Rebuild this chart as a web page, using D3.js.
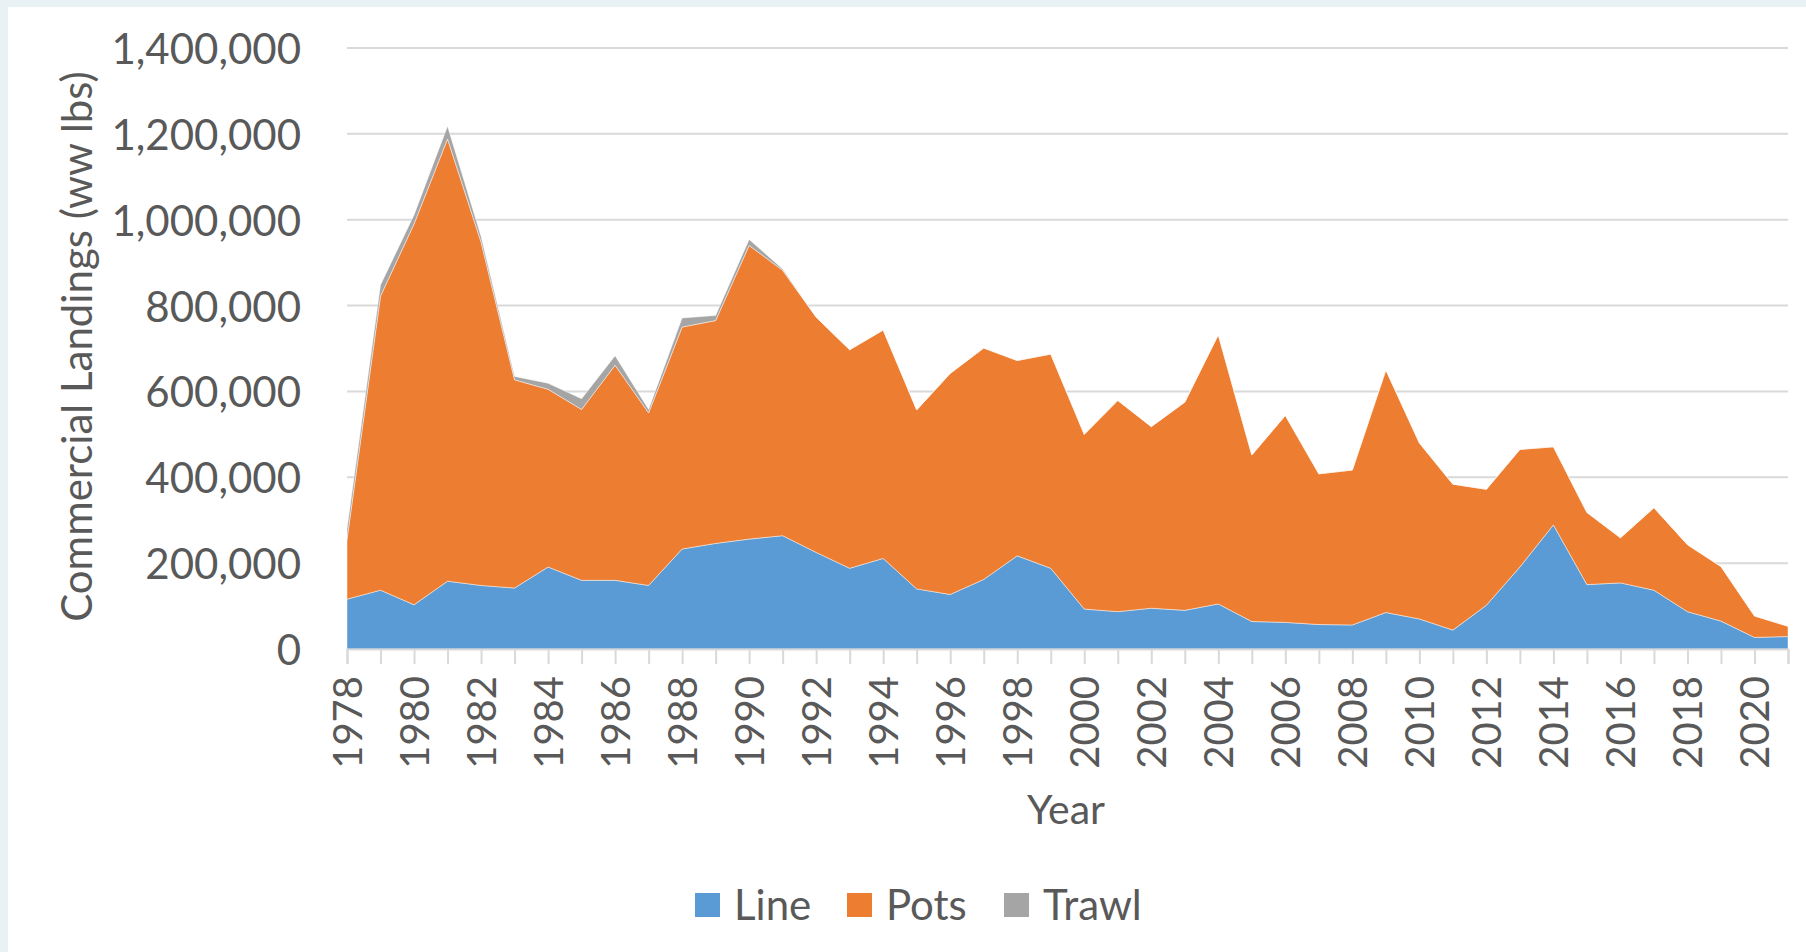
<!DOCTYPE html>
<html>
<head>
<meta charset="utf-8">
<script src="https://cdn.jsdelivr.net/npm/d3@7"></script>
<style>
  html, body { margin: 0; padding: 0; background: #e8f1f4; }
  svg { display: block; }
</style>
</head>
<body>
<script>
// ---- data (thousands of lbs) ----
const years = [1978,1979,1980,1981,1982,1983,1984,1985,1986,1987,1988,1989,1990,1991,1992,1993,1994,1995,1996,1997,1998,1999,2000,2001,2002,2003,2004,2005,2006,2007,2008,2009,2010,2011,2012,2013,2014,2015,2016,2017,2018,2019,2020,2021];
const lineVals = [116,137,103,158,148,142,191,160,160,148,233,246,256,264,225,188,211,140,127,162,217,188,93,87,95,90,105,64,62,57,56,85,70,44,102,191,289,150,154,137,87,65,27,29];
const potsVals = [139,685,887,1030,800,485,414,398,501,402,517,519,684,618,548,509,532,417,515,539,455,499,407,492,423,485,627,388,482,351,361,565,410,340,270,274,182,168,105,192,156,127,50,24];
const trawlVals = [25,26,21,30,13,8,14,25,22,8,21,12,14,3,0,0,0,0,0,0,0,0,0,0,0,0,0,0,0,0,0,0,0,0,0,0,0,0,0,0,0,0,0,0];
const seriesNames = ["Line","Pots","Trawl"];
const seriesColors = ["#5b9bd5","#ed7d31","#a5a5a5"];
const yTicks = [0,200000,400000,600000,800000,1000000,1200000,1400000];
const xLabelYears = years.filter(y => (y - 1978) % 2 === 0);

const W = 1806, H = 952;
const plot = {left: 347, right: 1788, top: 48, bottom: 649};
const textColor = "#595959";
const fontFamily = "Lato, 'Open Sans', sans-serif";

const svg = d3.select("body").append("svg").attr("width", W).attr("height", H);
svg.append("rect").attr("x", 8).attr("y", 7).attr("width", W - 8).attr("height", H - 7).attr("fill", "#ffffff");

const table = years.map((yr, i) => ({year: yr, Line: lineVals[i]*1000, Pots: potsVals[i]*1000, Trawl: trawlVals[i]*1000}));
const stack = d3.stack().keys(seriesNames)(table);

const x = d3.scaleLinear().domain([years[0], years[years.length-1]]).range([plot.left, plot.right]);
const y = d3.scaleLinear().domain([0, 1400000]).range([plot.bottom, plot.top]);

// gridlines
svg.append("g").selectAll("line").data(yTicks.filter(d => d > 0)).join("line")
  .attr("x1", plot.left).attr("x2", plot.right)
  .attr("y1", d => y(d)).attr("y2", d => y(d))
  .attr("stroke", "#d9d9d9").attr("stroke-width", 2);

// areas
const area = d3.area().x(d => x(d.data.year)).y0(d => y(d[0])).y1(d => y(d[1]));
svg.append("g").selectAll("path").data(stack).join("path")
  .attr("d", area)
  .attr("fill", (d, i) => seriesColors[i])
  .attr("stroke", "#ffffff").attr("stroke-opacity", 0.45).attr("stroke-width", 1);

// x axis
const xAxis = d3.axisBottom(x).tickValues(years).tickSize(15).tickFormat("");
const gx = svg.append("g").attr("transform", `translate(0,${plot.bottom})`).call(xAxis);
gx.select(".domain").attr("stroke", "#d9d9d9").attr("stroke-width", 2);
gx.selectAll(".tick line").attr("stroke", "#d9d9d9").attr("stroke-width", 2);

svg.append("g").selectAll("text").data(xLabelYears).join("text")
  .attr("transform", d => `translate(${x(d)},${plot.bottom + 27}) rotate(-90)`)
  .attr("text-anchor", "end").attr("dominant-baseline", "central")
  .attr("font-family", fontFamily).attr("font-size", 40).attr("fill", textColor)
  .text(d => d);

// y axis labels
const fmt = d3.format(",");
svg.append("g").selectAll("text").data(yTicks).join("text")
  .attr("x", 301).attr("y", d => y(d))
  .attr("text-anchor", "end").attr("dominant-baseline", "central")
  .attr("font-family", fontFamily).attr("font-size", 42).attr("fill", textColor)
  .text(d => fmt(d));

// axis titles
svg.append("text")
  .attr("transform", `translate(76,${(plot.top + plot.bottom)/2 - 2}) rotate(-90)`)
  .attr("text-anchor", "middle").attr("dominant-baseline", "central")
  .attr("font-family", fontFamily).attr("font-size", 42).attr("fill", textColor)
  .text("Commercial Landings (ww lbs)");

svg.append("text")
  .attr("x", 1066).attr("y", 824)
  .attr("text-anchor", "middle")
  .attr("font-family", fontFamily).attr("font-size", 41).attr("fill", textColor)
  .text("Year");

// legend
const legendX = [695, 847, 1004];
const lg = svg.append("g").selectAll("g").data(seriesNames).join("g")
  .attr("transform", (d, i) => `translate(${legendX[i]},893)`);
lg.append("rect").attr("width", 25).attr("height", 24).attr("fill", (d, i) => seriesColors[i]);
lg.append("text").attr("x", 39).attr("y", 27)
  .attr("font-family", fontFamily).attr("font-size", 42).attr("fill", textColor)
  .text(d => d);
</script>
</body>
</html>
